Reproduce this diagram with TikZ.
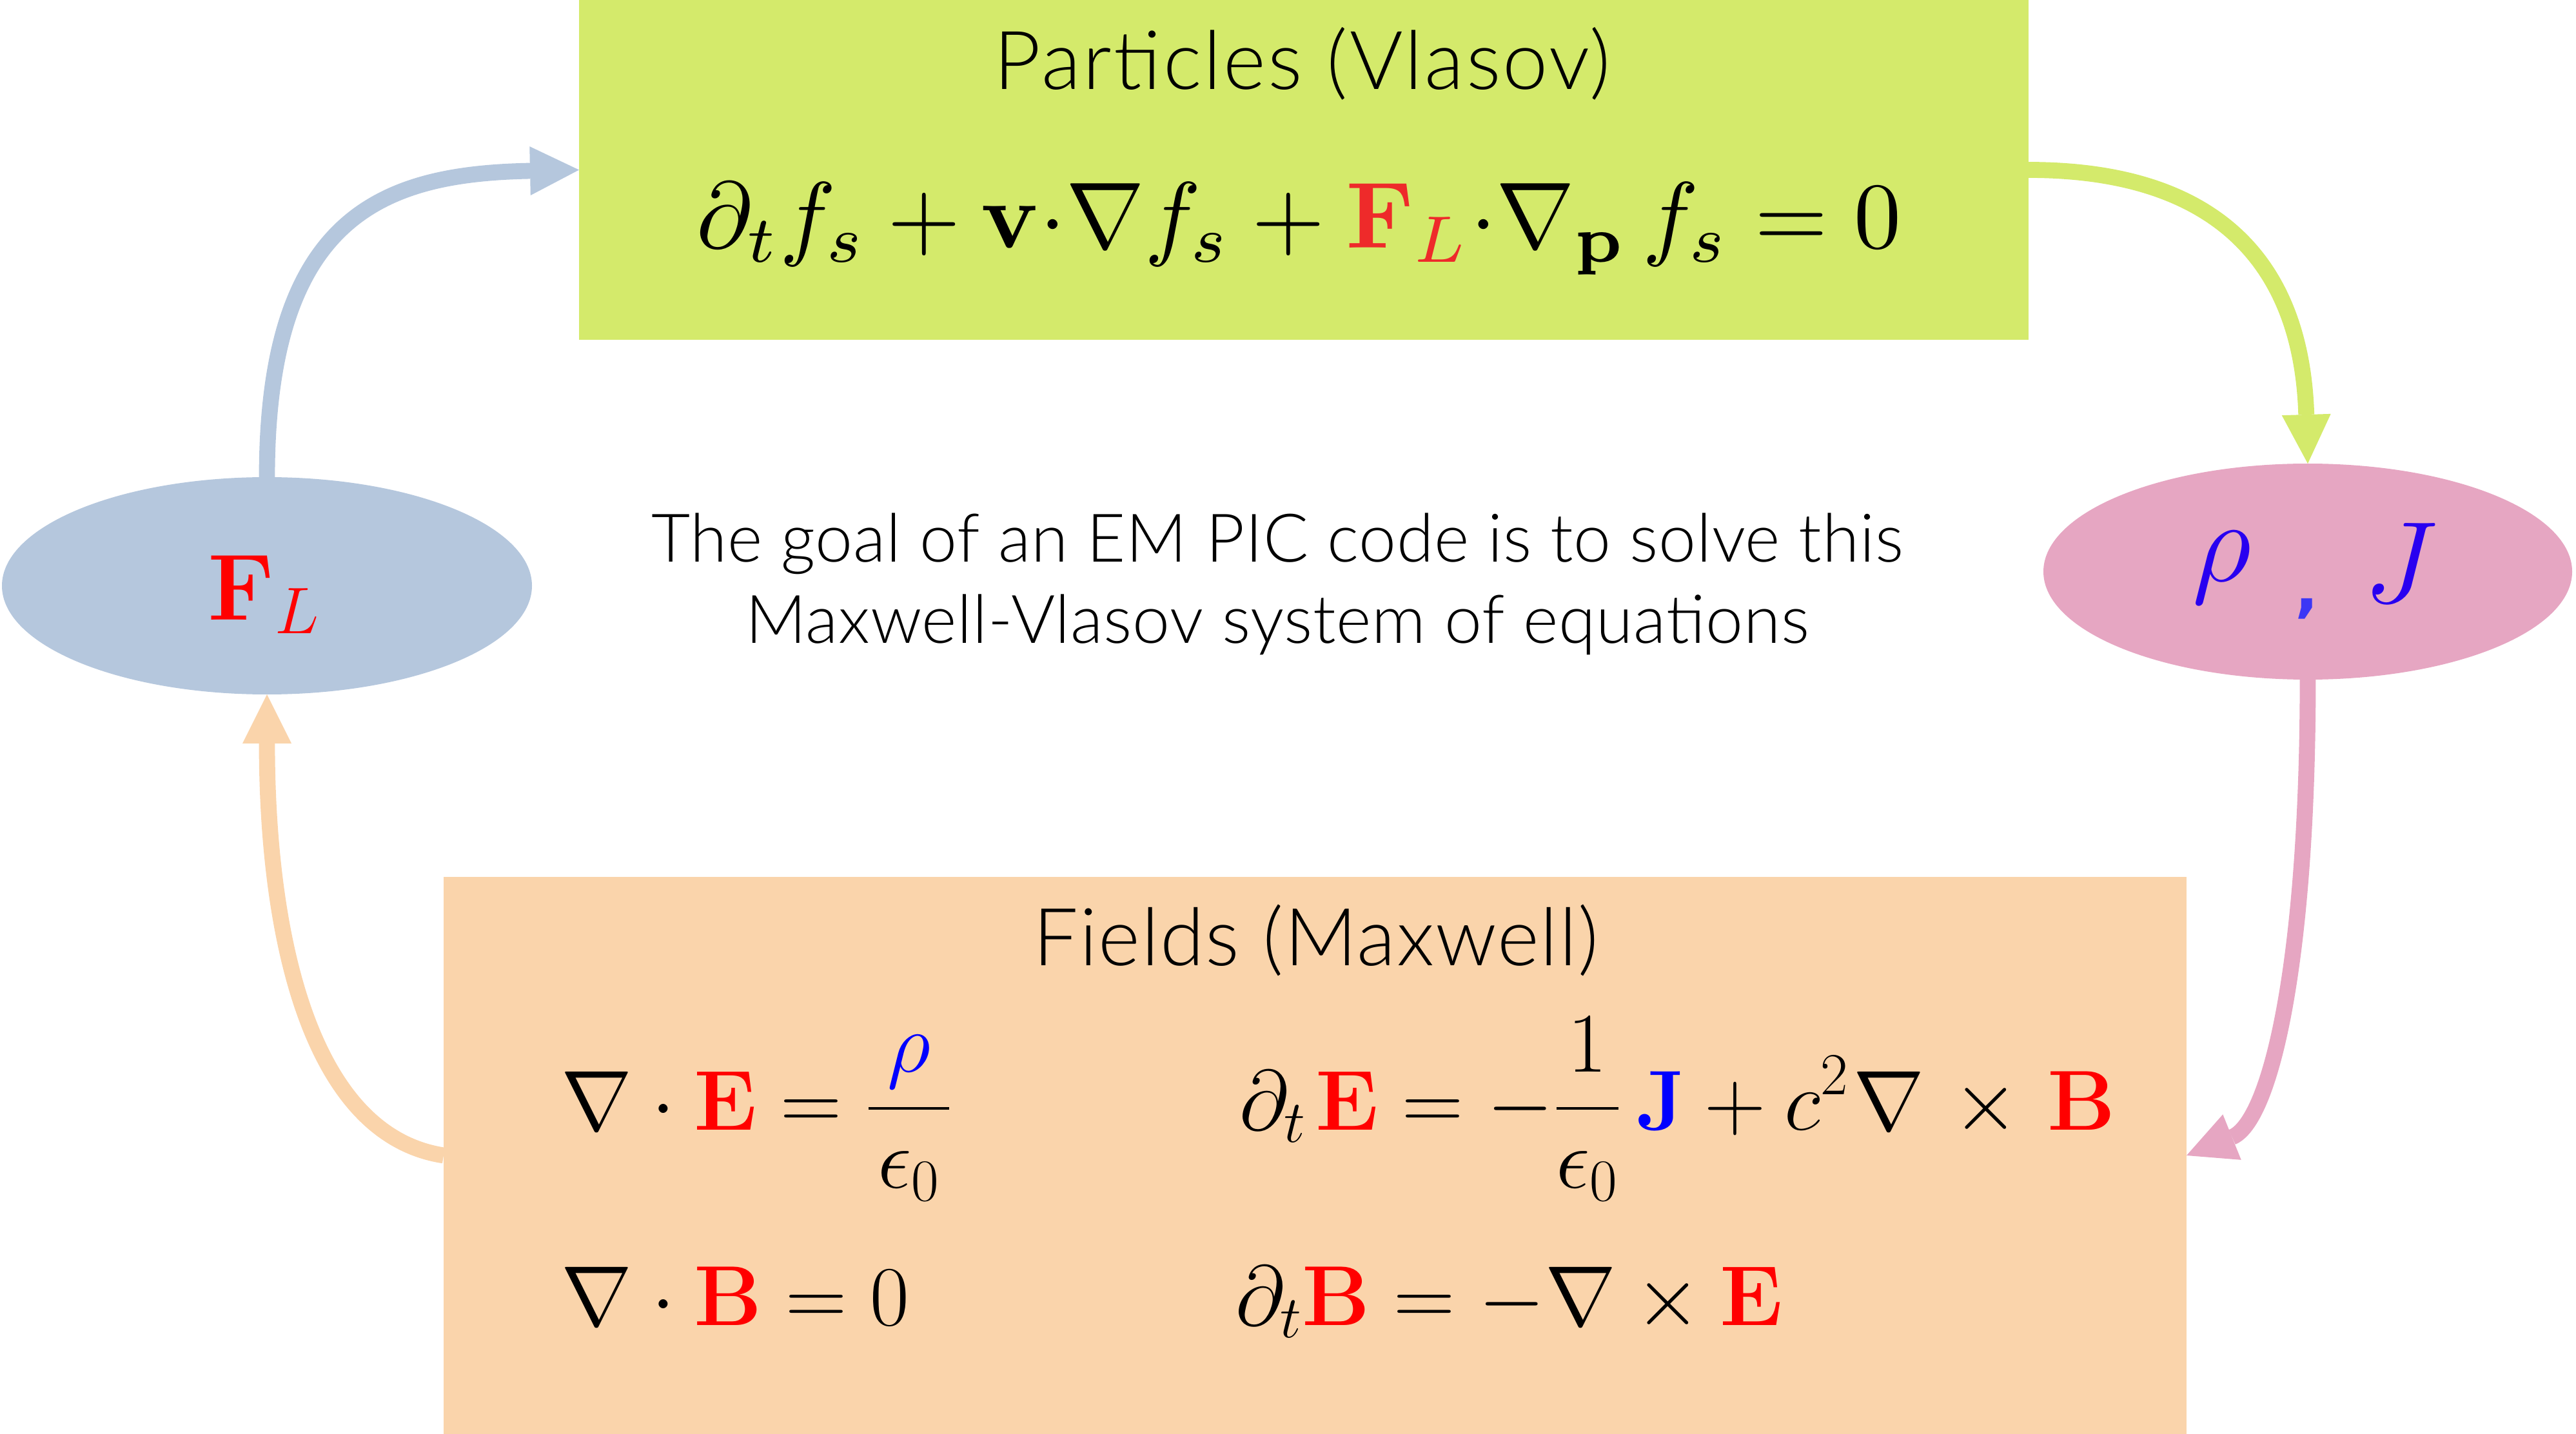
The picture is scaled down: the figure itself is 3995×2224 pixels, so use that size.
\RequirePackage{fix-cm}
\documentclass[tikz,border=0pt]{standalone}
\usepackage{amsmath}
\usepackage[no-math]{fontspec}
\usepackage{graphicx}
\usetikzlibrary{arrows.meta,shapes.geometric}
\newfontfamily\titlefont{Lato Light}[LetterSpace=2.5]
\newfontfamily\fieldfont{Lato Light}[LetterSpace=1.5]
\newfontfamily\notefont{Lato Light}[LetterSpace=0.7]
\newfontfamily\commafont{DejaVu Sans}
\definecolor{vgreen}{HTML}{D4EA6B}
\definecolor{fblue}{HTML}{B5C7DD}
\definecolor{rpink}{HTML}{E6A6C2}
\definecolor{mpeach}{HTML}{FAD4AB}
\definecolor{eqred}{HTML}{FF0000}
\definecolor{topred}{HTML}{EE2A2A}
\definecolor{eqblue}{HTML}{0000FF}
\definecolor{rjblue}{HTML}{2800F0}
\definecolor{commablue}{HTML}{3C37F5}
\begin{document}
\begin{tikzpicture}[x=0.25pt,y=-0.25pt,
  panel/.style={rectangle,draw=none,inner sep=0pt,outer sep=0pt},
  oval/.style={ellipse,draw=none,inner sep=0pt,outer sep=0pt},
  flow/.style={line width=6.2pt,-{Triangle[length=19pt,width=19pt,line width=0pt]}},
  title/.style={inner sep=0pt,anchor=base},
  note/.style={font=\notefont\fontsize{26}{31}\selectfont,inner sep=0pt,anchor=base},
  eqbig/.style={inner sep=0pt,anchor=base west,font=\fontsize{33}{40}\selectfont}]
\useasboundingbox (0,0) rectangle (3995,2224);
% boxes
\node[panel,fill=vgreen,minimum width=562pt,minimum height=131.75pt] (vlasov) at (2022,263.5) {};
\node[panel,fill=mpeach,minimum width=675.75pt,minimum height=216pt] (maxwell) at (2039.5,1792) {};
\node[oval,fill=fblue,minimum width=205.5pt,minimum height=84.25pt] (fl) at (414,908.5) {};
\node[oval,fill=rpink,minimum width=205pt,minimum height=83.75pt] (rj) at (3579,886.5) {};
% texts
\node[title,font=\titlefont\fontsize{31.5}{37}\selectfont] (vtitle) at (2020,138.5) {Particles (Vlasov)};
\node[inner sep=0pt,anchor=base west] (veq) at (1080,385)
  {\resizebox{467pt}{!}{$\partial_t f_s + \mathbf{v}{\cdot}\nabla f_s + \textcolor{topred}{\mathbf{F}_L}{\cdot}\nabla_{\mathbf{p}}\, f_s = 0$}};
\node[note] (goal1) at (1981,872) {The goal of an EM PIC code is to solve this};
\node[note] (goal2) at (1981,998) {Maxwell-Vlasov system of equations};
\node[title,font=\fieldfont\fontsize{31}{37}\selectfont] (mtitle) at (2041,1497) {Fields (Maxwell)};
\node[eqbig] (gaussE) at (870,1752) {$\displaystyle\nabla\cdot\textcolor{eqred}{\mathbf{E}} = \frac{\mkern4mu\textcolor{eqblue}{\rho}\mkern4mu}{\epsilon_0}$};
\node[eqbig] (ampere) at (1922,1752) {$\displaystyle\partial_t\mkern2mu\textcolor{eqred}{\mathbf{E}} = -\frac{1}{\epsilon_0}\,\textcolor{eqblue}{\mathbf{J}} + c^2\mkern1mu\nabla\mkern2mu\times\mkern2mu\textcolor{eqred}{\mathbf{B}}$};
\node[eqbig] (gaussB) at (870,2055) {$\nabla\cdot\textcolor{eqred}{\mathbf{B}} = 0$};
\node[eqbig] (faraday) at (1916,2055) {$\partial_t\textcolor{eqred}{\mathbf{B}} = -\nabla\times\textcolor{eqred}{\mathbf{E}}$};
\node[inner sep=0pt,anchor=base west,font=\fontsize{36.5}{44}\selectfont,text=eqred] (fltext) at (322,961) {$\mathbf{F}_L$};
\node[inner sep=0pt,anchor=base,font=\fontsize{45}{54}\selectfont,text=rjblue] (rho) at (3446,902) {$\rho$};
\node[inner sep=0pt,anchor=center,font=\commafont\bfseries\fontsize{24}{29}\selectfont,text=commablue] (comma) at (3578,944) {,};
\node[inner sep=0pt,anchor=base,font=\fontsize{45}{54}\selectfont,text=rjblue] (jtext) at (3723,935) {$J$};
% connectors
\draw[flow,fblue] (fl.north) .. controls +(0,-410) and +(-299,6) .. (vlasov.west);
\draw[flow,vgreen] (vlasov.east) .. controls +(304,0) and +(-9,-299) .. (rj.north);
\draw[flow,rpink] (rj.south) .. controls +(0,446) and +(129,-52) .. (maxwell.east);
\draw[flow,mpeach] (maxwell.west) .. controls +(-208,-32) and +(0,373) .. (fl.south);
\end{tikzpicture}
\end{document}
